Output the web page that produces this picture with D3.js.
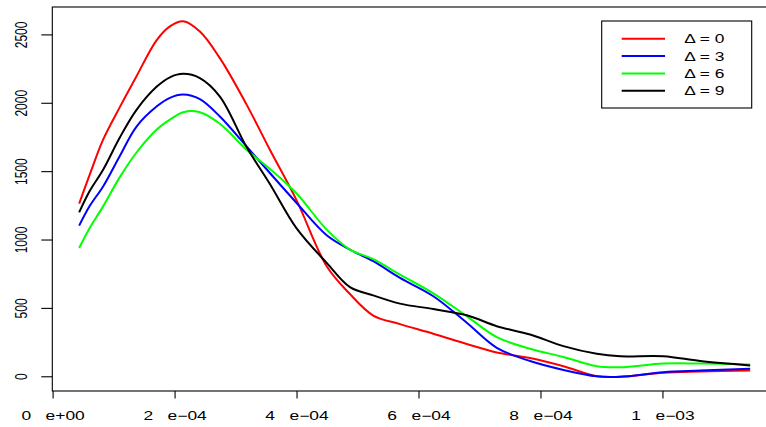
<!DOCTYPE html>
<html>
<head>
<meta charset="utf-8">
<script src="https://cdn.jsdelivr.net/npm/d3@7"></script>
<style>
  html, body { margin: 0; padding: 0; background: #fff; }
  svg { display: block; }
  text { font-family: "Liberation Sans", Arial, Helvetica, sans-serif; }
</style>
</head>
<body>
<svg id="chart" width="766" height="427"></svg>
<script>
// ---- data (x in seconds) ----
const xs = [4.27e-5, 6.02e-5, 8.20e-5, 1.094e-4, 1.368e-4, 1.696e-4, 1.915e-4, 2.133e-4, 2.407e-4,
            2.735e-4, 3.173e-4, 3.555e-4, 3.993e-4, 4.486e-4, 4.868e-4, 5.250e-4, 5.688e-4, 6.235e-4,
            6.783e-4, 7.275e-4, 7.821e-4, 8.368e-4, 8.915e-4, 9.297e-4, 1.0008e-3, 1.0610e-3, 1.1430e-3];
const delta0 = [1266, 1480, 1734, 1972, 2198, 2460, 2562, 2600, 2525, 2330, 1990, 1660, 1290, 808, 605, 448,
                385, 315, 240, 178, 137, 77, 4, 0, 29, 38, 46];
const delta3 = [1105, 1250, 1392, 1615, 1830, 1976, 2040, 2064, 2030, 1903, 1684, 1490, 1271, 1035, 930, 845,
                723, 589, 395, 212, 115, 50, 3, 0, 34, 45, 58];
const delta6 = [942, 1090, 1246, 1460, 1640, 1806, 1880, 1935, 1935, 1850, 1660, 1520, 1340, 1076, 930, 860,
                747, 610, 443, 290, 205, 145, 77, 70, 97, 97, 90];
const delta9 = [1202, 1360, 1514, 1750, 1952, 2120, 2190, 2215, 2184, 2049, 1680, 1410, 1085, 833, 655, 595,
                535, 495, 450, 370, 309, 224, 168, 150, 150, 115, 83];
const seriesNames = ["0", "3", "6", "9"];
const seriesColors = ["#ff0000", "#0000ff", "#00ff00", "#000000"];
const xTicks = [0, 2e-4, 4e-4, 6e-4, 8e-4, 1e-3];
const xTickMant = ["0", "2", "4", "6", "8", "1"];
const xTickExp = ["e+00", "e\u221204", "e\u221204", "e\u221204", "e\u221204", "e\u221203"];
const yTicks = [0, 500, 1000, 1500, 2000, 2500];

// ---- layout ----
const svg = d3.select("#chart");
const box = {left: 52.3, right: 777, top: 7, bottom: 391};
const SX = 1.45; // horizontal text stretch seen in reference

const allY = [].concat(delta0, delta3, delta6, delta9);
const xExt = d3.extent(xs), yExt = [0, d3.max(allY)];
const xPad = (xExt[1] - xExt[0]) * 0.04, yPad = (yExt[1] - yExt[0]) * 0.04;
const x = d3.scaleLinear().domain([xExt[0] - xPad, xExt[1] + xPad]).range([box.left, box.right]);
const y = d3.scaleLinear().domain([yExt[0] - yPad, yExt[1] + yPad]).range([box.bottom, box.top]);

// plot box
svg.append("rect")
  .attr("x", box.left).attr("y", box.top)
  .attr("width", box.right - box.left).attr("height", box.bottom - box.top)
  .attr("fill", "none").attr("stroke", "#000").attr("stroke-width", 1.1);

// x axis ticks
const xg = svg.append("g");
xTicks.forEach((t, i) => {
  const px = x(t);
  xg.append("line").attr("x1", px).attr("x2", px).attr("y1", box.bottom).attr("y2", box.bottom + 7.5)
    .attr("stroke", "#000").attr("stroke-width", 1.1);
  const g = xg.append("g").attr("transform", "translate(" + px + ",420) scale(" + SX + ",1)");
  const tx = g.append("text").attr("text-anchor", "middle").attr("font-size", 12).attr("fill", "#000");
  tx.append("tspan").text(xTickMant[i]);
  tx.append("tspan").attr("dx", 10).text(xTickExp[i]);
});

// y axis ticks
const yg = svg.append("g");
yTicks.forEach(t => {
  const py = y(t);
  yg.append("line").attr("x1", box.left - 11).attr("x2", box.left).attr("y1", py).attr("y2", py)
    .attr("stroke", "#000").attr("stroke-width", 1.1);
  yg.append("g").attr("transform", "translate(27," + py + ") scale(" + SX + ",1) rotate(-90)")
    .append("text").attr("text-anchor", "middle").attr("font-size", 12).attr("fill", "#000").text(t);
});

// lines
const series = [delta0, delta3, delta6, delta9];
const line = d3.line().x((d, i) => x(xs[i])).y(d => y(d)).curve(d3.curveCatmullRom.alpha(0.5));
svg.append("clipPath").attr("id", "clip").append("rect")
  .attr("x", box.left).attr("y", box.top).attr("width", box.right - box.left).attr("height", box.bottom - box.top);
series.forEach((s, k) => {
  svg.append("path").attr("d", line(s)).attr("fill", "none")
    .attr("stroke", seriesColors[k]).attr("stroke-width", 2)
    .attr("stroke-linejoin", "round").attr("clip-path", "url(#clip)");
});

// legend
const lg = svg.append("g");
lg.append("rect").attr("x", 601.7).attr("y", 21).attr("width", 150).attr("height", 87)
  .attr("fill", "#fff").attr("stroke", "#000").attr("stroke-width", 1.1);
seriesNames.forEach((n, k) => {
  const ry = 38.7 + k * 17.35;
  lg.append("line").attr("x1", 621.7).attr("x2", 665).attr("y1", ry).attr("y2", ry)
    .attr("stroke", seriesColors[k]).attr("stroke-width", 2);
  lg.append("g").attr("transform", "translate(684.3," + (ry + 4.6) + ") scale(" + SX + ",1)")
    .append("text").attr("font-size", 12).attr("fill", "#000").text("\u0394 = " + n);
});
</script>
</body>
</html>
